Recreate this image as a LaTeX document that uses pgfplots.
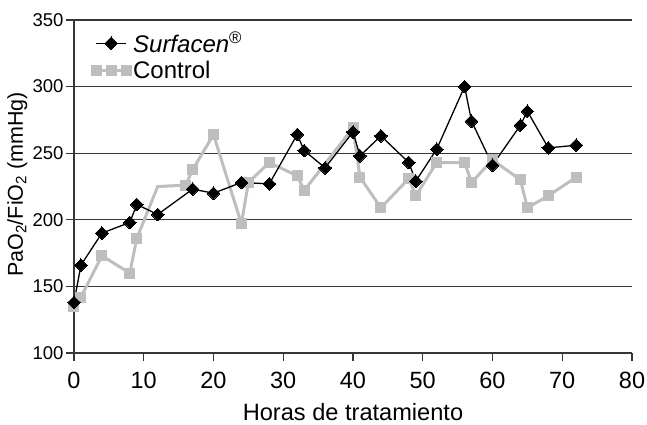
\documentclass[border=0pt]{standalone}
\usepackage{fontspec}
\setmainfont{Liberation Sans}
\usepackage{pgfplots}
\pgfplotsset{compat=1.18}
\definecolor{ctrl}{RGB}{190,190,190}
\definecolor{gridc}{RGB}{55,55,55}
\begin{document}
\begin{tikzpicture}
\path[use as bounding box] (-74pt,-71pt) rectangle (573pt,353pt);
\begin{axis}[
 scale only axis, width=558pt, height=333pt,
 xmin=0, xmax=80, ymin=100, ymax=350,
 xtick={0,10,...,80}, ytick={100,150,...,350},
 axis x line*=bottom, axis y line*=left,
 ymajorgrids, major grid style={gridc, line width=1.2pt},
 axis line style={gridc, line width=1.2pt},
 tick style={gridc, line width=1.2pt},
 tick align=outside, major tick length=8pt,
 /pgf/number format/assume math mode=true,
 x tick label style={font=\fontsize{23.5}{23.5}\selectfont, yshift=-8pt},
 y tick label style={font=\fontsize{18.5}{18.5}\selectfont, xshift=1pt},
 xlabel={Horas de tratamiento},
 ylabel={PaO\textsubscript{2}/FiO\textsubscript{2} (mmHg)},
 xlabel style={font=\fontsize{23.6}{23.6}\selectfont, at={(rel axis cs:0.5,0)}, anchor=base, yshift=-67pt},
 ylabel style={font=\fontsize{21.5}{21.5}\selectfont, at={(rel axis cs:0,0.5)}, anchor=base, yshift=51pt, xshift=2pt},
 legend style={at={(axis cs:2.0,344)}, anchor=north west, draw=none, fill=none,
   font=\fontsize{24}{24}\selectfont, row sep=3pt, legend cell align=left,
   nodes={inner xsep=2pt}},
 reverse legend,
 legend image code/.code={\draw[#1, mark repeat=2, mark phase=2] plot coordinates {(0pt,0pt) (15pt,0pt) (30pt,0pt)};},
]
\addplot[ctrl, line width=3pt, mark=square*, mark size=5pt, mark options={line width=0pt, fill=ctrl, draw=ctrl},
  mark indices={1,2,3,4,5,7,8,9,10,11,12,13,14,15,16,17,18,19,20,21,22,23,24,25,26,27}]
coordinates {(0,135)(1,142)(4,173)(8,160)(9,186)(12,225)(16,226)(17,237.5)(20,264)(24,197)(25,228)(28,243)(32,233)(33,222)(40,269)(41,232)(44,209)(48,231)(49,218)(52,243)(56,243)(57,228)(60,245)(64,230)(65,209)(68,218)(72,232)};
\addlegendentry{Control}
\addplot[black, line width=1.3pt, mark=square*, mark size=4.5pt, mark options={rotate=45, line width=0pt, fill=black}]
coordinates {(0,138)(1,166)(4,190)(8,198)(9,211.5)(12,204)(17,223)(20,220)(24,228)(28,227)(32,264)(33,252)(36,239)(40,266)(41,248)(44,263)(48,243)(49,229)(52,253)(56,300)(57,274)(60,241)(64,271)(65,281.5)(68,254)(72,256)};
\addlegendentry{\textit{Surfacen}\textsuperscript{®}}
\end{axis}
\end{tikzpicture}
\end{document}
